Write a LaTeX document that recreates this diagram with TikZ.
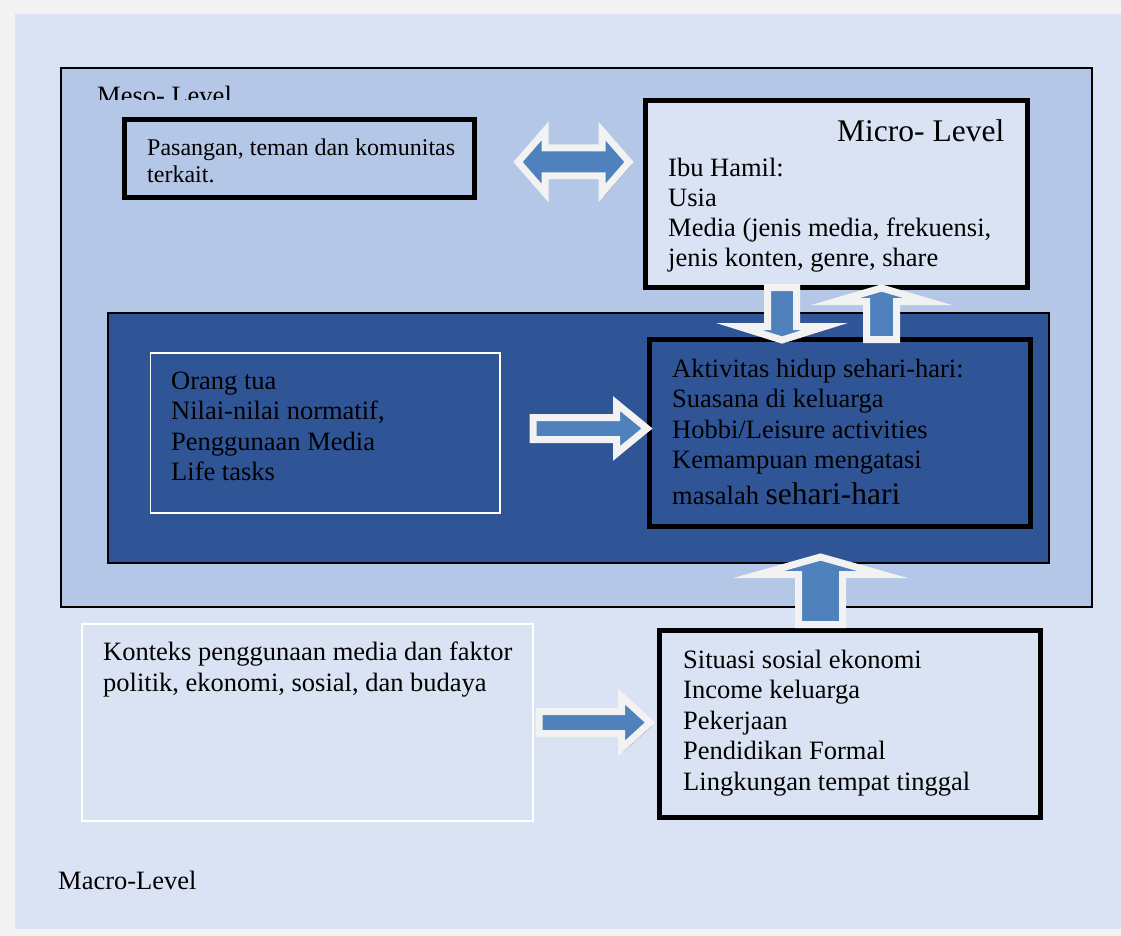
\documentclass[tikz,border=0pt]{standalone}
\usepackage{fontspec}
\setmainfont{Liberation Serif}
\usepackage{tikz}
\definecolor{pagegray}{HTML}{F2F2F2}
\definecolor{macroblue}{HTML}{DAE3F3}
\definecolor{mesoblue}{HTML}{B4C7E7}
\definecolor{familyblue}{HTML}{2F5597}
\definecolor{arrowblue}{HTML}{4F81BD}

\begin{document}
\begin{tikzpicture}[x=1pt, y=-1pt,
	box/.style={anchor=north west, inner sep=0pt, outer sep=0pt},
	thickbox/.style={box, draw=black, line width=5pt},
	thinbox/.style={box, draw=black, line width=1.5pt},
	whitebox/.style={box, draw=white, line width=1.5pt},
	txt/.style={anchor=north west, inner sep=0pt, align=left, font=\fontsize{26.5}{30.5}\selectfont},
	label/.style={anchor=base west, inner sep=0pt, font=\fontsize{26.5}{30.5}\selectfont},
	blockarrow/.style={fill=arrowblue, draw=pagegray, line width=7pt, line join=miter,
		preaction={fill=black, draw=black, opacity=0.3, transform canvas={shift={(2,3)}}}}]
	\useasboundingbox [fill=pagegray] (0, 0) rectangle (1121, 936);
	\node [box, fill=macroblue, minimum width=1106pt, minimum height=915pt] (macro) at (15, 14) {};
	\node [thinbox, fill=mesoblue, minimum width=1031pt, minimum height=539pt] (meso) at (61, 68) {};
	\node [thinbox, fill=familyblue, minimum width=941pt, minimum height=250pt] (family) at (108, 313) {};
	\node [thickbox, fill=mesoblue, minimum width=350pt, minimum height=78pt] (peer) at (124.5, 119.5) {};
	\node [thickbox, fill=macroblue, minimum width=382pt, minimum height=187pt] (micro) at (645.5, 100.5) {};
	\node [whitebox, minimum width=349.5pt, minimum height=160pt] (parent) at (150.5, 353) {};
	\node [thickbox, minimum width=381pt, minimum height=187pt] (daily) at (649.5, 339.5) {};
	\node [whitebox, minimum width=451pt, minimum height=197pt] (context) at (82, 624) {};
	\node [thickbox, minimum width=381pt, minimum height=187pt] (socio) at (659.5, 630.5) {};

	\begin{scope}
		\clip (61, 68) rectangle (400, 100);
		\node [label] (mesotxt) at (97, 104.5) {Meso- Level};
	\end{scope}
	\node [txt, font=\fontsize{24}{27}\selectfont] (peertxt) at (147, 136.1) {\strut Pasangan, teman dan komunitas\\terkait.};
	\node [label, font=\fontsize{31.5}{36}\selectfont] (microtitle) at (837, 142) {Micro- Level};
	\node [txt, font=\fontsize{26.5}{30}\selectfont] (microtxt) at (668, 155) {\strut Ibu Hamil:\\Usia\\Media (jenis media, frekuensi,\\jenis konten, genre, share};
	\node [txt] (parenttxt) at (171, 367.65) {\strut Orang tua\\Nilai-nilai normatif,\\Penggunaan Media\\Life tasks};
	\node [txt] (dailytxt) at (672, 355.65) {\strut Aktivitas hidup sehari-hari:\\Suasana di keluarga\\Hobbi/Leisure activities\\Kemampuan mengatasi\\[5.5pt]masalah {\fontsize{31.5}{36}\selectfont sehari-hari}};
	\node [txt, font=\fontsize{26.5}{31}\selectfont] (contexttxt) at (103, 638.3) {\strut Konteks penggunaan media dan faktor\\politik, ekonomi, sosial, dan budaya};
	\node [txt] (sociotxt) at (683, 646.65) {\strut Situasi sosial ekonomi\\Income keluarga\\Pekerjaan\\Pendidikan Formal\\Lingkungan tempat tinggal};
	\node [label] (macrotxt) at (58, 889) {Macro-Level};

	\draw [blockarrow] (518, 162) -- (545, 131) -- (545, 148) -- (602, 148) -- (602, 131) -- (629, 162)
		-- (602, 193) -- (602, 176) -- (545, 176) -- (545, 193) -- cycle;
	\draw [blockarrow] (767.5, 287.5) -- (796.5, 287.5) -- (796.5, 326.5) -- (825, 326.5) -- (782, 340)
		-- (739, 326.5) -- (767.5, 326.5) -- cycle;
	\draw [blockarrow] (866.5, 339.5) -- (896.5, 339.5) -- (896.5, 301.5) -- (927.5, 301.5) -- (881.5, 288)
		-- (835.5, 301.5) -- (866.5, 301.5) -- cycle;
	\draw [blockarrow] (533, 417.5) -- (616.5, 417.5) -- (616.5, 403.5) -- (647, 428.5) -- (616.5, 453.5)
		-- (616.5, 439.5) -- (533, 439.5) -- cycle;
	\draw [blockarrow] (539, 711.5) -- (621.5, 711.5) -- (621.5, 696.5) -- (650, 722.5) -- (621.5, 748.5)
		-- (621.5, 733.5) -- (539, 733.5) -- cycle;
	\draw [blockarrow] (798.5, 624.5) -- (842.5, 624.5) -- (842.5, 574.5) -- (882.5, 574.5) -- (820.5, 557)
		-- (758.5, 574.5) -- (798.5, 574.5) -- cycle;
\end{tikzpicture}
\end{document}
